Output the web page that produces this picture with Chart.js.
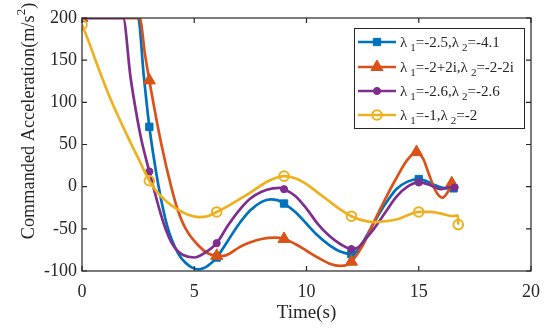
<!DOCTYPE html>
<html><head><meta charset="utf-8">
<script src="https://cdn.jsdelivr.net/npm/chart.js@4.4.0/dist/chart.umd.min.js"></script>
<style>html,body{margin:0;padding:0;background:#fff}</style>
</head><body>
<canvas id="c" width="550" height="332" style="width:550px;height:332px;display:block"></canvas>
<script>
// ---- data ----
const xTicks = [0, 5, 10, 15, 20];
const yTicks = [-100, -50, 0, 50, 100, 150, 200];
const xTitle = 'Time(s)';
const yTitle = 'Commanded Acceleration(m/s^2)';
const legendLabels = ['\u03BB_1=-2.5,\u03BB_2=-4.1', '\u03BB_1=-2+2i,\u03BB_2=-2-2i', '\u03BB_1=-2.6,\u03BB_2=-2.6', '\u03BB_1=-1,\u03BB_2=-2'];

const blueT = [0,2.5,2.75,3,3.2,3.4,3.6,3.8,4,4.3,4.6,4.9,5.2,5.6,6,6.5,7,7.5,8,8.4,8.7,9,9.5,10,10.5,11,11.5,12,12.3,12.6,13,13.5,14,14.5,15,15.3,15.8,16.2,16.55];
const blueV = [200,200,132,71,34,2,-25,-47,-63,-80,-90,-96,-98,-94,-84,-64,-44,-28,-18,-15,-16,-20,-30,-44,-58,-69,-77,-80,-75,-62,-43,-21,-3,6,9,7,1,-2,-2];
const blueMarks = [0,3,6,9,12,15,16.55];

const orangeT = [0,2.57,2.8,3,3.53,4,4.27,4.64,5.23,5.6,6,6.3,6.6,7,7.5,8,8.6,9,9.5,10,10.5,11,11.5,11.8,12,12.5,13,13.5,14,14.5,14.9,15.2,15.45,15.75,16.05,16.3,16.47];
const orangeV = [200,200,158,126,51,-3,-28,-51,-71,-79,-82,-82,-79,-72,-66,-62,-60.5,-62,-68,-76,-84,-91,-94,-93,-89,-70,-42,-15,10,32,41,33,15,-5,-13,-6,4];
const orangeMarks = [0,3,6,9,12,14.9,16.47];

const purpleT = [0,1.83,2.16,2.4,2.65,3,3.46,3.75,4,4.25,4.5,5,5.5,6,6.5,7,7.5,8,8.5,8.8,9,9.5,10,10.5,11,11.5,12,12.3,12.6,13,13.5,14,14.5,15,15.5,15.95,16.3,16.6];
const purpleV = [200,200,130,90,55,18,-28,-52,-67,-76,-81,-84,-78,-67,-46,-28,-14,-6,-2,-1.5,-3,-11,-26,-44,-58,-68,-74,-72,-63,-50,-31,-12,0,5,2,-3,-1,-1];
const purpleMarks = [0,3,6,9,12,15,16.6];

const yellowT = [0,0.3,0.6,1.27,2.15,2.5,3,3.3,3.7,4.2,4.7,5.2,5.6,6,6.5,7,7.5,8,8.5,9,9.5,10,10.5,11,11.5,12,12.5,13,13.5,14,14.5,15,15.5,16,16.5,16.74,16.76];
const yellowV = [192,172,150,104,53,34,7,-5,-16,-26,-33,-36,-35,-30,-23,-15,-7,2,9,12.5,10,3,-7,-17,-27,-35,-40,-42,-41,-39,-34,-30,-30,-32,-35,-34,-45];
const yellowMarks = [0,3,6,9,12,15,16.76];

// ---- styling ----
const FONT = "'Liberation Serif','Times New Roman',serif";
const INK = '#262626';
const series = [
  {t: blueT, v: blueV, m: blueMarks, color: '#0072BD', style: 'rect', r: 5.2, fill: '#0072BD', bw: 1, order: 4},
  {t: orangeT, v: orangeV, m: orangeMarks, color: '#D95319', style: 'triangle', r: 7, fill: '#D95319', bw: 1, order: 3},
  {t: purpleT, v: purpleV, m: purpleMarks, color: '#7E2F8E', style: 'circle', r: 3.6, fill: '#7E2F8E', bw: 1, order: 2},
  {t: yellowT, v: yellowV, m: yellowMarks, color: '#EDB120', style: 'circle', r: 4.8, fill: 'rgba(255,255,255,0)', bw: 2, order: 1}
];

const datasets = series.map((s, i) => ({
  label: legendLabels[i].replace(/_(\w)/g, (a, b) => String.fromCharCode(0x2080 + Number(b))),
  data: s.t.map((t, k) => ({x: t, y: s.v[k]})),
  borderColor: s.color,
  borderWidth: 2.7,
  cubicInterpolationMode: 'monotone',
  pointStyle: s.style,
  pointRadius: ctx => (ctx.raw && s.m.includes(ctx.raw.x)) ? s.r : 0,
  pointHoverRadius: 0,
  pointBackgroundColor: s.fill,
  pointBorderColor: s.color,
  pointBorderWidth: s.bw,
  order: s.order,
  fill: false
}));

const frame = {
  id: 'frame',
  afterDatasetsDraw(chart) {
    const {ctx, chartArea: a, scales: {x, y}} = chart;
    ctx.save();
    ctx.strokeStyle = INK; ctx.lineWidth = 1.2;
    ctx.strokeRect(a.left, a.top, a.right - a.left, a.bottom - a.top);
    const L = 5;
    ctx.beginPath();
    x.ticks.forEach(tk => { const p = x.getPixelForValue(tk.value);
      ctx.moveTo(p, a.bottom); ctx.lineTo(p, a.bottom - L);
      ctx.moveTo(p, a.top); ctx.lineTo(p, a.top + L); });
    y.ticks.forEach(tk => { const p = y.getPixelForValue(tk.value);
      ctx.moveTo(a.left, p); ctx.lineTo(a.left + L, p);
      ctx.moveTo(a.right, p); ctx.lineTo(a.right - L, p); });
    ctx.stroke();
    ctx.restore();
  }
};

// y-axis title with a real superscript, centred where the reference puts it
const yTitleDraw = {
  id: 'yTitleDraw',
  afterDraw(chart) {
    const ctx = chart.ctx;
    const [main, sup] = yTitle.split('^');
    const body = main, supChar = sup.charAt(0), tail = sup.slice(1);
    ctx.save();
    ctx.fillStyle = INK;
    ctx.textBaseline = 'middle';
    ctx.font = '18.3px ' + FONT;
    const w1 = ctx.measureText(body).width;
    const w3 = ctx.measureText(tail).width;
    ctx.font = '13px ' + FONT;
    const w2 = ctx.measureText(supChar).width;
    const total = w1 + w2 + w3;
    ctx.translate(29, 121);
    ctx.rotate(-Math.PI / 2);
    let x = -total / 2;
    ctx.font = '18.3px ' + FONT; ctx.textAlign = 'left';
    ctx.fillText(body, x, 0); x += w1;
    ctx.font = '13px ' + FONT; ctx.fillText(supChar, x, -7); x += w2;
    ctx.font = '18.3px ' + FONT; ctx.fillText(tail, x, 0);
    ctx.restore();
  }
};

function drawMarker(ctx, s, x, y) {
  ctx.fillStyle = s.fill; ctx.strokeStyle = s.color;
  ctx.lineWidth = s.bw;
  ctx.beginPath();
  if (s.style === 'rect') { const h = s.r * Math.SQRT1_2; ctx.rect(x - h, y - h, 2 * h, 2 * h); }
  else if (s.style === 'triangle') { const r = s.r;
    ctx.moveTo(x, y - r); ctx.lineTo(x + r * 0.866, y + r * 0.5); ctx.lineTo(x - r * 0.866, y + r * 0.5); ctx.closePath(); }
  else { ctx.arc(x, y, s.r, 0, Math.PI * 2); }
  ctx.fill(); ctx.stroke();
}

const legendBox = {
  id: 'legendBox',
  afterDraw(chart) {
    const ctx = chart.ctx;
    const bx = 354, by = 28, bw = 170, bh = 100;
    ctx.save();
    ctx.fillStyle = '#fff'; ctx.fillRect(bx, by, bw, bh);
    ctx.strokeStyle = INK; ctx.lineWidth = 1; ctx.strokeRect(bx + 0.5, by + 0.5, bw, bh);
    const rows = [42, 67, 91, 115];
    series.forEach((s, i) => {
      const yy = rows[i];
      ctx.strokeStyle = s.color; ctx.lineWidth = 2.7;
      ctx.beginPath(); ctx.moveTo(358, yy); ctx.lineTo(396, yy); ctx.stroke();
      drawMarker(ctx, s, 377, yy);
      let x = 400;
      ctx.fillStyle = INK; ctx.textBaseline = 'alphabetic';
      const parts = legendLabels[i].split(/(_\w)/);
      parts.forEach(p => {
        if (!p) return;
        if (p[0] === '_') {
          ctx.font = '11px ' + FONT;
          x += 3;
          ctx.fillText(p[1], x, yy + 9);
          x += ctx.measureText(p[1]).width;
        } else {
          ctx.font = '15px ' + FONT;
          ctx.fillText(p, x, yy + 5);
          x += ctx.measureText(p).width;
        }
      });
    });
    ctx.restore();
  }
};

new Chart(document.getElementById('c'), {
  type: 'line',
  data: {datasets},
  options: {
    responsive: false,
    animation: false,
    devicePixelRatio: 1,
    layout: {padding: {top: 18, right: 17, left: 0, bottom: 0}},
    plugins: {legend: {display: false}, tooltip: {enabled: false}},
    scales: {
      x: {
        type: 'linear', min: 0, max: 20,
        afterFit: sc => { sc.height = 61; },
        afterBuildTicks: sc => { sc.ticks = xTicks.map(v => ({value: v})); },
        grid: {display: false, drawTicks: false},
        border: {display: false},
        ticks: {color: INK, font: {family: FONT, size: 18}, padding: 10, maxRotation: 0},
        title: {display: true, text: xTitle, color: INK, font: {family: FONT, size: 19}, padding: {top: 0, bottom: 8}}
      },
      y: {
        type: 'linear', min: -100, max: 200,
        afterFit: sc => { sc.width = 82; },
        afterBuildTicks: sc => { sc.ticks = yTicks.map(v => ({value: v})); },
        grid: {display: false, drawTicks: false},
        border: {display: false},
        ticks: {color: INK, font: {family: FONT, size: 18}, padding: 5},
        title: {display: false, text: yTitle.replace('^2', '\u00B2')}
      }
    }
  },
  plugins: [frame, yTitleDraw, legendBox]
});
</script>
</body></html>
